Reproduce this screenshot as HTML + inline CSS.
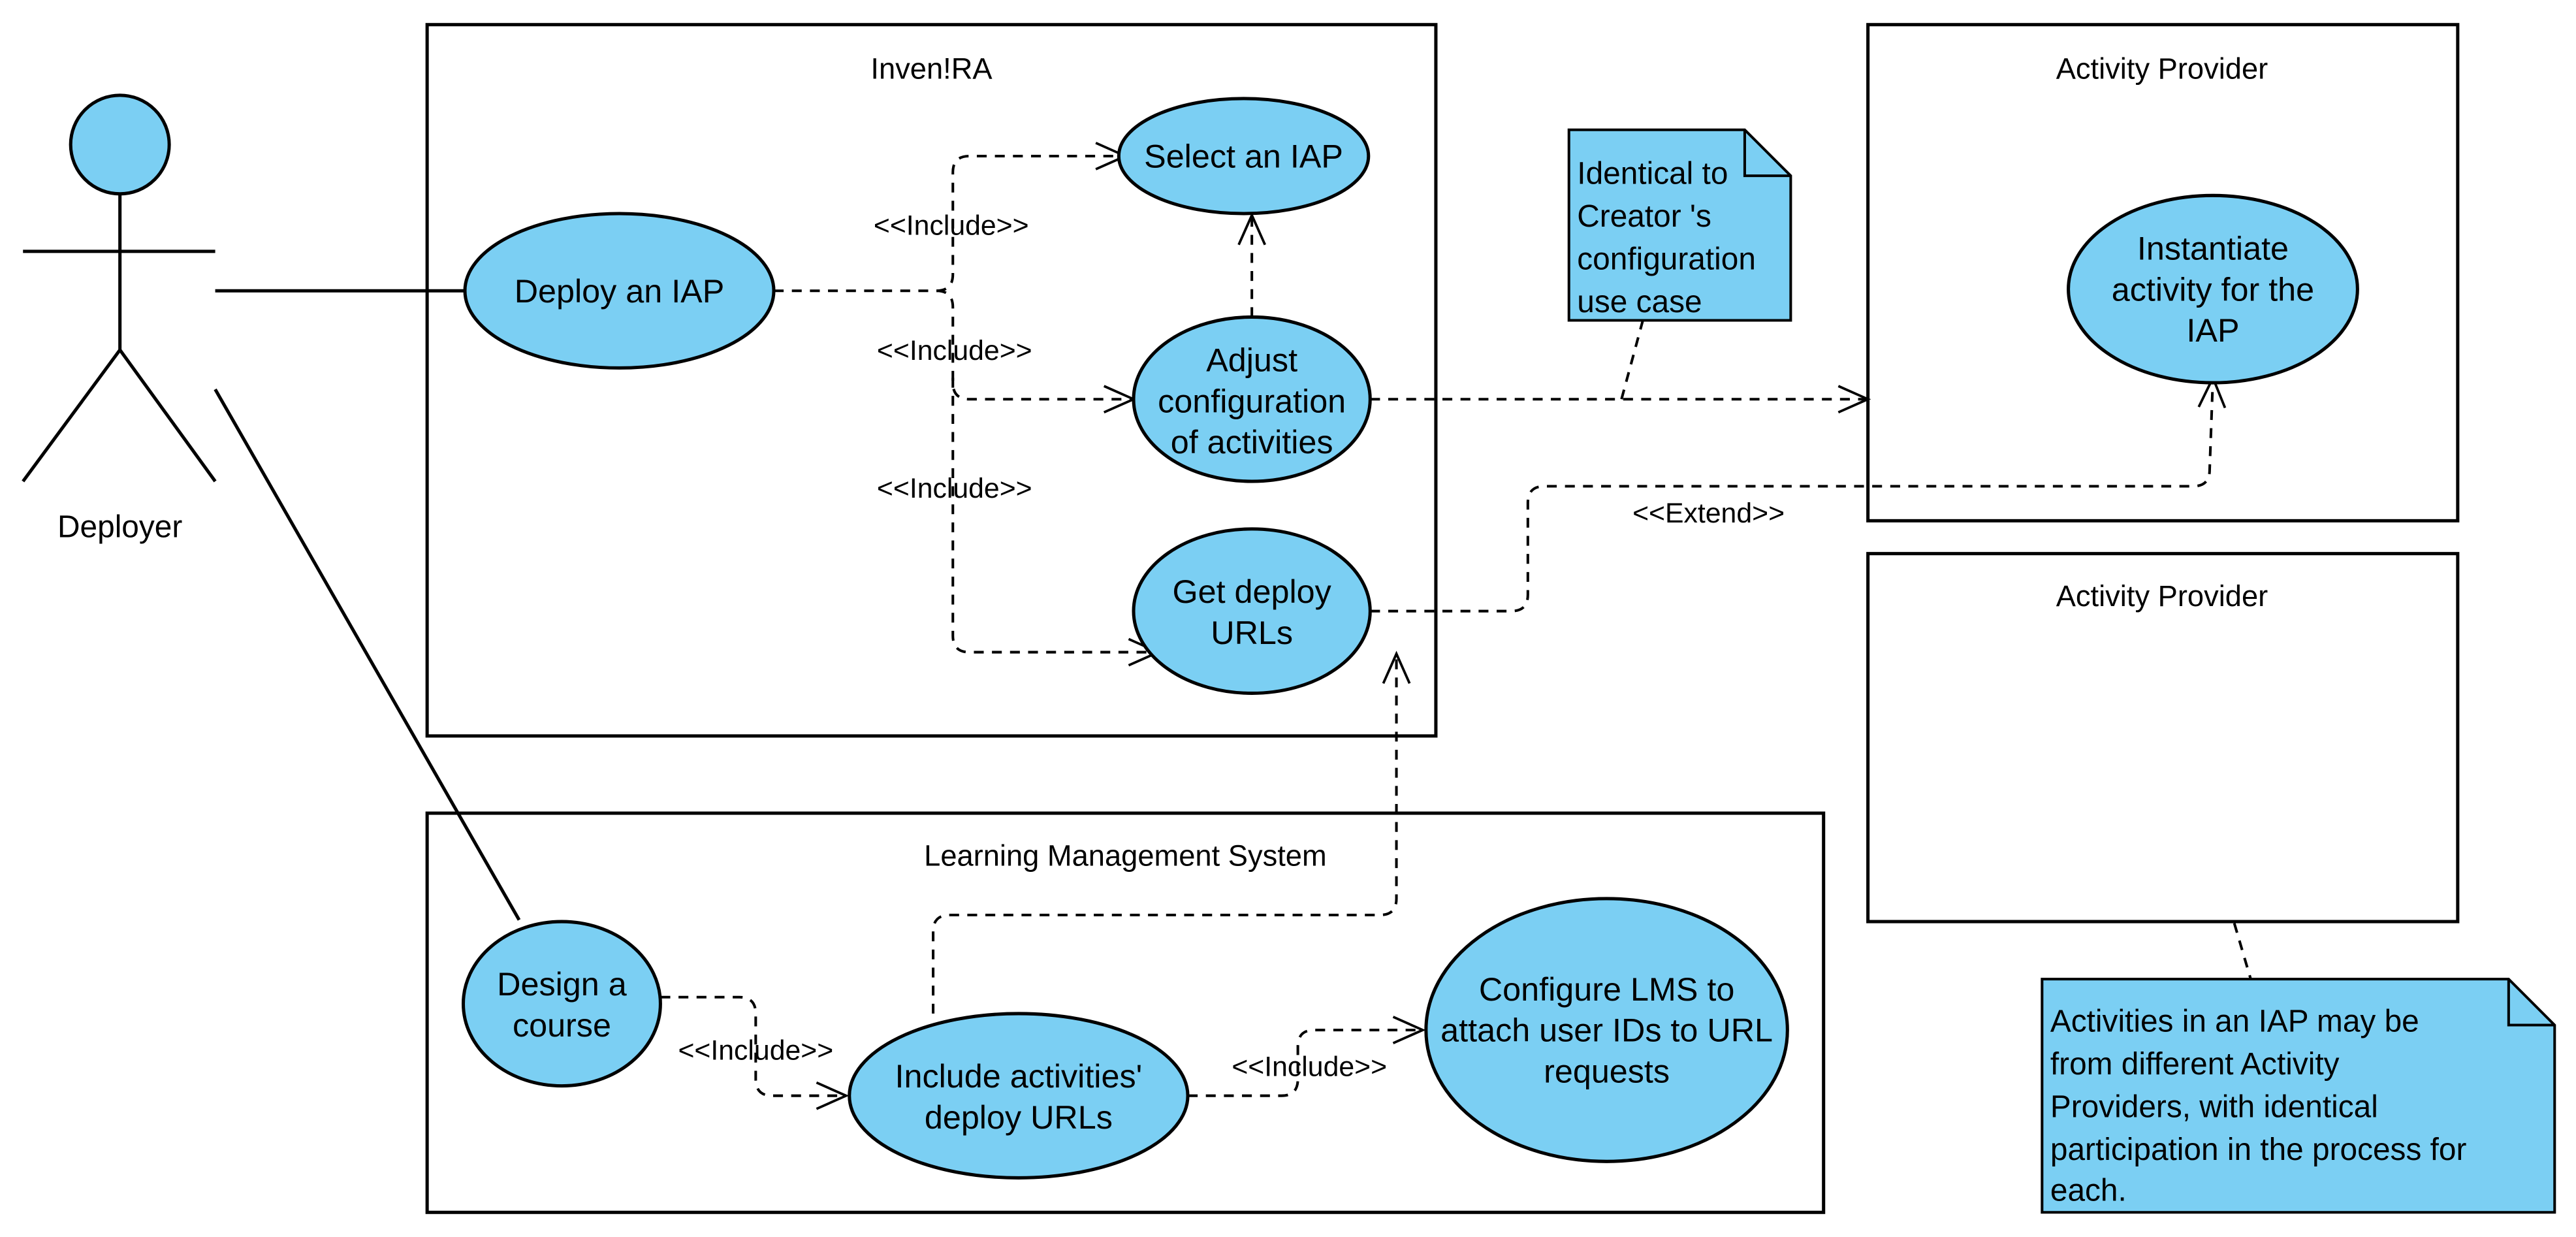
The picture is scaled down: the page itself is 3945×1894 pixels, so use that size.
<!DOCTYPE html>
<html><head><meta charset="utf-8"><style>
html,body{margin:0;padding:0;background:#fff;}
svg{display:block;}
text{font-family:"Liberation Sans",Arial,sans-serif;fill:#000;}
</style></head><body>
<svg width="3945" height="1894" viewBox="0 0 1568 753" preserveAspectRatio="none" xmlns="http://www.w3.org/2000/svg">
<defs>
<marker id="a" markerWidth="24" markerHeight="20" refX="19" refY="9" orient="auto" markerUnits="userSpaceOnUse">
<path d="M1,1 L19,9 L1,17" fill="none" stroke="#000" stroke-width="1.5"/>
</marker>
</defs>
<g fill="none" stroke="#000" stroke-width="2">
<rect x="260" y="15" width="614" height="433"/>
<rect x="1137" y="15" width="359" height="302"/>
<rect x="1137" y="337" width="359" height="224"/>
<rect x="260" y="495" width="850" height="243"/>
</g>
<text x="567" y="48" font-size="18" text-anchor="middle">Inven!RA</text>
<text x="1316" y="48" font-size="18" text-anchor="middle">Activity Provider</text>
<text x="1316" y="369" font-size="18" text-anchor="middle">Activity Provider</text>
<text x="685" y="527" font-size="18" text-anchor="middle">Learning Management System</text>

<g stroke="#000" stroke-width="2" fill="none">
<circle cx="73" cy="88" r="30" fill="#7bcff3"/>
<line x1="73" y1="118" x2="73" y2="213"/>
<line x1="14" y1="153" x2="131" y2="153"/>
<line x1="73" y1="213" x2="14" y2="293"/>
<line x1="73" y1="213" x2="131" y2="293"/>
<line x1="131" y1="177" x2="283" y2="177"/>
<line x1="131" y1="237" x2="316" y2="560"/>
</g>
<text x="73" y="327" font-size="19" text-anchor="middle">Deployer</text>

<g fill="none" stroke="#000" stroke-width="1.6" stroke-dasharray="6,5">
<path d="M471,177 L570,177 Q580,177 580,167 L580,105 Q580,95 590,95 L685,95" marker-end="url(#a)"/>
<path d="M570,177 Q580,177 580,187 L580,233 Q580,243 590,243 L690,243" marker-end="url(#a)"/>
<path d="M580,230 L580,387 Q580,397 590,397 L705,397" marker-end="url(#a)"/>
<path d="M762,193 L762,131" marker-end="url(#a)"/>
<path d="M834,243 L1137,243" marker-end="url(#a)"/>
<path d="M987,243 L1000,195"/>
<path d="M834,372 L920,372 Q930,372 930,362 L930,306 Q930,296 940,296 L1335,296 Q1345,296 1345,286 L1347,230" marker-end="url(#a)"/>
<path d="M1360,562 L1370,596"/>
<path d="M402,607 L450,607 Q460,607 460,617 L460,657 Q460,667 470,667 L515,667" marker-end="url(#a)"/>
<path d="M723,667 L780,667 Q790,667 790,657 L790,637 Q790,627 800,627 L866,627" marker-end="url(#a)"/>
<path d="M568,617 L568,567 Q568,557 578,557 L840,557 Q850,557 850,547 L850,398" marker-end="url(#a)"/>
</g>

<g fill="#7bcff3" stroke="#000" stroke-width="2">
<ellipse cx="377" cy="177" rx="94" ry="47"/>
<ellipse cx="757" cy="95" rx="76" ry="35"/>
<ellipse cx="762" cy="243" rx="72" ry="50"/>
<ellipse cx="762" cy="372" rx="72" ry="50"/>
<ellipse cx="1347" cy="176" rx="88" ry="57"/>
<ellipse cx="342" cy="611" rx="60" ry="50"/>
<ellipse cx="620" cy="667" rx="103" ry="50"/>
<ellipse cx="978" cy="627" rx="110" ry="80"/>
</g>
<g font-size="20" text-anchor="middle">
<text x="377" y="184">Deploy an IAP</text>
<text x="757" y="102">Select an IAP</text>
<text x="762" y="226">Adjust</text>
<text x="762" y="251">configuration</text>
<text x="762" y="276">of activities</text>
<text x="762" y="367">Get deploy</text>
<text x="762" y="392">URLs</text>
<text x="1347" y="158">Instantiate</text>
<text x="1347" y="183">activity for the</text>
<text x="1347" y="208">IAP</text>
<text x="342" y="606">Design a</text>
<text x="342" y="631">course</text>
<text x="620" y="662">Include activities'</text>
<text x="620" y="687">deploy URLs</text>
<text x="978" y="609">Configure LMS to</text>
<text x="978" y="634">attach user IDs to URL</text>
<text x="978" y="659">requests</text>
</g>
<g font-size="17" text-anchor="middle">
<text x="579" y="143">&lt;&lt;Include&gt;&gt;</text>
<text x="581" y="219">&lt;&lt;Include&gt;&gt;</text>
<text x="581" y="303">&lt;&lt;Include&gt;&gt;</text>
<text x="1040" y="318">&lt;&lt;Extend&gt;&gt;</text>
<text x="460" y="645">&lt;&lt;Include&gt;&gt;</text>
<text x="797" y="655">&lt;&lt;Include&gt;&gt;</text>
</g>

<g fill="#7bcff3" stroke="#000" stroke-width="1.6">
<path d="M955,79 L1062,79 L1090,107 L1090,195 L955,195 Z"/>
<path d="M1062,79 L1062,107 L1090,107" fill="none"/>
<path d="M1243,596 L1527,596 L1555,624 L1555,738 L1243,738 Z"/>
<path d="M1527,596 L1527,624 L1555,624" fill="none"/>
</g>
<g font-size="19">
<text x="960" y="112">Identical to</text>
<text x="960" y="138">Creator 's</text>
<text x="960" y="164">configuration</text>
<text x="960" y="190">use case</text>
<text x="1248" y="628">Activities in an IAP may be</text>
<text x="1248" y="654">from different Activity</text>
<text x="1248" y="680">Providers, with identical</text>
<text x="1248" y="706">participation in the process for</text>
<text x="1248" y="731">each.</text>
</g>
</svg>
</body></html>
